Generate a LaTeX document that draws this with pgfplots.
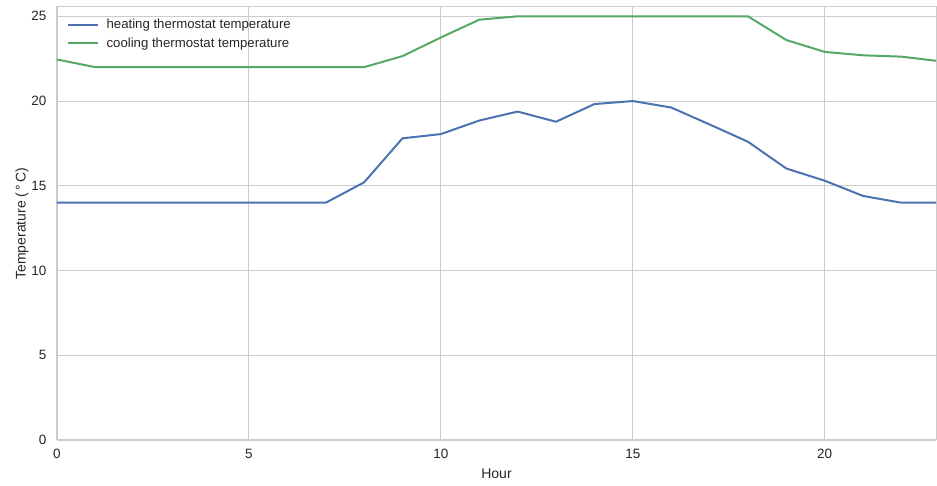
\documentclass[border=0pt]{standalone}
\usepackage{fontspec}
\setmainfont{Liberation Sans}
\usepackage{pgfplots}
\pgfplotsset{compat=1.18}
\definecolor{sbblue}{HTML}{4C72B0}
\definecolor{sbgreen}{HTML}{55A868}
\definecolor{gridgray}{HTML}{CCCCCC}
\definecolor{txt}{HTML}{262626}
\begin{document}
\begin{tikzpicture}
\begin{axis}[
  scale only axis,
  width=879pt, height=433pt,
  xmin=0, xmax=22.9, ymin=0, ymax=25.55,
  xtick={0,5,10,15,20}, ytick={0,5,10,15,20,25},
  grid=major,
  major grid style={gridgray, line width=0.9pt},
  axis line style={gridgray, line width=1pt},
  major tick length=0pt,
  tick label style={font=\fontsize{13.5}{15}\selectfont, text=txt},
  label style={font=\fontsize{14}{16}\selectfont, text=txt},
  /pgf/number format/assume math mode=true,
  xticklabel style={yshift=-6pt},
  yticklabel style={xshift=-7pt},
  xlabel={Hour},
  ylabel={Temperature (\,°\,C)},
  xlabel style={yshift=-3pt},
  ylabel style={yshift=-4pt},
  legend style={at={(0.008,0.982)}, anchor=north west, draw=none, fill=none,
    font=\fontsize{13.2}{15}\selectfont, row sep=3.5pt},
  legend cell align=left,
  legend image post style={xscale=1.75},
]
\addplot[sbblue, line width=2pt] coordinates {
(0,14) (1,14) (2,14) (3,14) (4,14) (5,14) (6,14) (7,14) (8,15.2) (9,17.8)
(10,18.05) (11,18.85) (12,19.38) (13,18.78) (14,19.82) (15,20) (16,19.62)
(17,18.62) (18,17.6) (19,16.02) (20,15.3) (21,14.4) (22,14) (23,14)};
\addlegendentry{\hspace{5.5pt}\textcolor{txt}{heating thermostat temperature}}
\addplot[sbgreen, line width=2pt] coordinates {
(0,22.45) (1,22) (2,22) (3,22) (4,22) (5,22) (6,22) (7,22) (8,22) (9,22.65)
(10,23.75) (11,24.8) (12,25) (13,25) (14,25) (15,25) (16,25) (17,25) (18,25)
(19,23.6) (20,22.9) (21,22.7) (22,22.62) (23,22.35)};
\addlegendentry{\hspace{5.5pt}\textcolor{txt}{cooling thermostat temperature}}
\end{axis}
\path (current axis.south west) ++(-57pt,-46pt) coordinate (bl);
\path (current axis.north east) ++(1pt,7pt) coordinate (tr);
\pgfresetboundingbox
\useasboundingbox (bl) rectangle (tr);
\end{tikzpicture}
\end{document}
